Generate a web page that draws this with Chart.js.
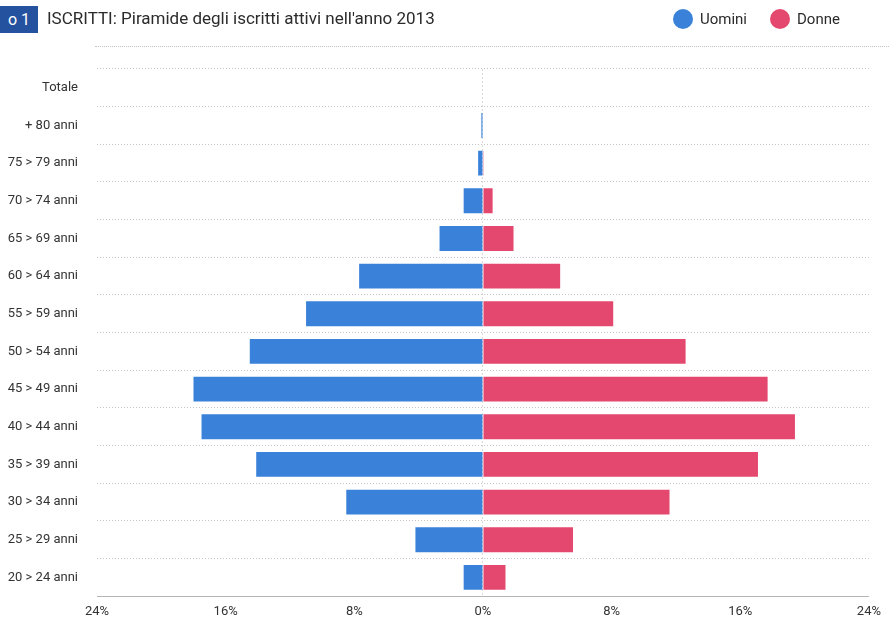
<!DOCTYPE html>
<html>
<head>
<meta charset="utf-8">
<script src="https://cdn.jsdelivr.net/npm/chart.js@4/dist/chart.umd.min.js"></script>
<style>
    body { margin: 0; background: #fff; }
    #wrap { position: relative; width: 889px; height: 623px; overflow: hidden; font-family: Roboto, "Liberation Sans", sans-serif; }
    #chart { position: absolute; left: 0; top: 0; }
    .badge { position: absolute; left: 0; top: 6px; width: 38px; height: 27px; background: #24529e; color: #fff; font-size: 16px; line-height: 27px; text-align: center; }
    .title { position: absolute; left: 47px; top: 8px; font-size: 17px; color: #2b2b2b; }
    .legend { position: absolute; top: 9px; font-size: 15px; color: #2b2b2b; }
    .legend span.dot { display: inline-block; width: 20px; height: 20px; border-radius: 50%; vertical-align: -5px; margin-right: 7px; }
    .sep { position: absolute; left: 95px; right: 0; top: 46px; border-top: 1px dotted #c4c4c4; }
</style>
</head>
<body>
<div id="wrap">
    <canvas id="chart" width="889" height="623"></canvas>
    <div class="badge">o 1</div>
    <div class="title">ISCRITTI: Piramide degli iscritti attivi nell'anno 2013</div>
    <div class="legend" style="left:673px"><span class="dot" style="background:#3a82d9"></span>Uomini</div>
    <div class="legend" style="left:770px"><span class="dot" style="background:#e4486f"></span>Donne</div>
    <div class="sep"></div>
</div>
<script>
// age classes, top to bottom
const categories = [
    'Totale', '+ 80 anni', '75 > 79 anni', '70 > 74 anni', '65 > 69 anni',
    '60 > 64 anni', '55 > 59 anni', '50 > 54 anni', '45 > 49 anni', '40 > 44 anni',
    '35 > 39 anni', '30 > 34 anni', '25 > 29 anni', '20 > 24 anni'
];

// percentage of active members
const uomini = [null, 0.1, 0.3, 1.2, 2.7, 7.7, 11.0, 14.5, 18.0, 17.5, 14.1, 8.5, 4.2, 1.2];
const donne = [null, 0, 0.05, 0.6, 1.9, 4.8, 8.1, 12.6, 17.7, 19.4, 17.1, 11.6, 5.6, 1.4];

const xTicks = [-24, -16, -8, 0, 8, 16, 24];

const blue = '#3a82d9';
const pink = '#e4486f';

const ctx = document.getElementById('chart').getContext('2d');
new Chart(ctx, {
    type: 'bar',
    data: {
        labels: categories,
        datasets: [{
            label: 'Uomini',
            data: uomini.map(v => v === null ? null : -v),
            backgroundColor: blue,
            categoryPercentage: 0.66,
            barPercentage: 1
        }, {
            label: 'Donne',
            data: donne,
            backgroundColor: pink,
            categoryPercentage: 0.66,
            barPercentage: 1
        }]
    },
    options: {
        indexAxis: 'y',
        responsive: false,
        animation: false,
        layout: {
            padding: { top: 69, right: 18, left: 0, bottom: 0 }
        },
        plugins: {
            legend: { display: false },
            title: { display: false },
            tooltip: { enabled: false }
        },
        scales: {
            x: {
                stacked: true,
                min: -24,
                max: 24,
                afterBuildTicks: scale => {
                    scale.ticks = xTicks.map(v => ({ value: v }));
                },
                afterFit: scale => { scale.height = 24; },
                grid: {
                    drawTicks: false,
                    color: c => c.tick && c.tick.value === 0 ? '#dadada' : 'rgba(0,0,0,0)'
                },
                border: { display: true, color: '#b5b5b5', dash: [2, 2] },
                ticks: {
                    padding: 8,
                    color: '#333',
                    font: { family: "'Liberation Sans Narrow', Roboto, sans-serif", size: 13 },
                    callback: v => Math.abs(v) + '%'
                }
            },
            y: {
                stacked: true,
                afterFit: scale => { scale.width = 97; },
                grid: {
                    offset: true,
                    drawTicks: false,
                    color: '#c4c4c4',
                    lineWidth: 1
                },
                border: { display: false, dash: [1, 2] },
                ticks: {
                    padding: 19,
                    color: '#333',
                    font: { family: "'Liberation Sans Narrow', Roboto, sans-serif", size: 13 }
                }
            }
        }
    }
});
</script>
</body>
</html>
